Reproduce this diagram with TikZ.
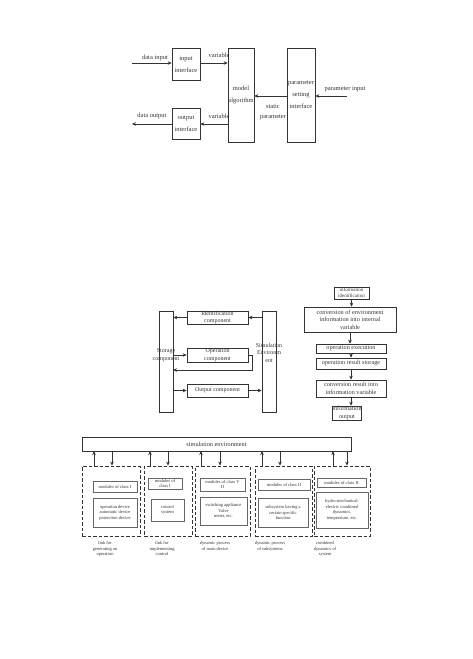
\documentclass[tikz,border=0pt]{standalone}
\usepackage{fontspec}
\setmainfont{Liberation Serif}
\usetikzlibrary{arrows.meta}

\begin{document}
\begin{tikzpicture}[x=1pt,y=-1pt,line width=0.6pt,color=black!80,
  >={Stealth[length=4pt,width=3.5pt]},
  box/.style={draw,inner sep=0pt,align=center},
  sz/.style 2 args={minimum width=#1pt,minimum height=#2pt},
  topf/.style={font=\fontsize{6.5}{12}\selectfont},
  midf/.style={font=\fontsize{6}{7.5}\selectfont},
  flowf/.style={font=\fontsize{6.2}{7.5}\selectfont},
  botf/.style={font=\fontsize{4.5}{5.5}\selectfont},
  grp/.style={draw,dash pattern=on 3.5pt off 2pt,line width=0.8pt},
  mod/.style={box,line width=1pt,draw=black!60}]
  \useasboundingbox (0,0) rectangle (473,659);

  % model with its interfaces
  \node[box,topf,sz={28}{32}] (inp) at (186,64) {input\\interface};
  \node[box,topf,sz={28}{31}] (outp) at (186,123.5) {output\\interface};
  \node[box,topf,sz={26}{94}] (model) at (241,95) {model\\algorithm};
  \node[box,topf,sz={28}{94}] (par) at (301,95) {parameter\\setting\\interface};
  \coordinate (din) at (132,63);
  \coordinate (dout) at (132,124);
  \coordinate (pin) at (347,96);
  \draw[->] (din) -- (inp.west |- din);
  \draw[->] (inp.east |- din) -- (model.west |- din);
  \draw[->] (model.west |- dout) -- (outp.east |- dout);
  \draw[->] (outp.west |- dout) -- (dout);
  \draw[->] (pin) -- (par.east |- pin);
  \draw[->] (par.west |- pin) -- (model.east |- pin);
  \node[topf] (ldin) at (155,58) {data input};
  \node[topf] (lvin) at (219,55) {variable};
  \node[topf] (lvout) at (219,116) {variable};
  \node[topf] (ldout) at (152,116) {data output};
  \node[topf] (lpin) at (345,89) {parameter input};
  \node[topf,align=center,font=\fontsize{6.5}{10}\selectfont] (lstat) at (273,112) {static\\parameter};

  % components
  \node[box,sz={14}{101}] (sto) at (166,361.5) {};
  \node[box,sz={14}{101}] (sim) at (269,361.5) {};
  \node[midf,align=center] (stot) at (166,355) {Storage\\component};
  \node[midf,align=center] (simt) at (269,352.5) {Simulation\\Environm\\ent};
  \node[box,midf,sz={61}{13}] (idc) at (217.5,317.5) {Identification\\component};
  \node[box,midf,sz={61}{14}] (opc) at (217.5,355) {Operation\\component};
  \node[box,midf,sz={61}{13}] (outc) at (217.5,390.5) {Output component};
  \coordinate (ret) at (173,370);
  \draw[->] (sim.west |- idc.east) -- (idc.east);
  \draw[->] (idc.west) -- (sto.east |- idc.west);
  \draw[->] (sto.east |- opc.west) -- (opc.west);
  \draw[->] (opc.east) -- ++(4,0) |- (ret);
  \draw[->] (sto.east |- outc.west) -- (outc.west);
  \draw[->] (outc.east) -- (sim.west |- outc.east);

  % information flow
  \node[box,sz={35}{12},font=\fontsize{5}{5.5}\selectfont] (f1) at (351.5,293) {information\\identification};
  \node[box,flowf,sz={92}{25}] (f2) at (350,319.5) {conversion of environment\\information into internal\\variable};
  \node[box,flowf,sz={70}{9}] (f3) at (351,348.5) {operation execution};
  \node[box,flowf,sz={70}{11}] (f4) at (351,363.5) {operation result storage};
  \node[box,flowf,sz={70}{17}] (f5) at (351,388.5) {conversion result into\\information variable};
  \node[box,flowf,sz={28}{14}] (f6) at (347,413) {information\\output};
  \foreach \a/\b in {f1/f2,f2/f3,f3/f4,f4/f5,f5/f6}
    \draw[->] (\a.south) -- (\a.south |- \b.north);

  % simulation environment and module classes
  \node[box,font=\fontsize{6.3}{7}\selectfont,sz={269}{14}] (env) at (216.5,444) {simulation environment};
  \foreach \i/\cx/\w in {1/111/58,2/168/48,3/222.5/55,4/283.5/57,5/342/56}
    \node[grp,sz={\w}{70}] (g\i) at (\cx,501) {};
  \foreach \i/\xu/\xd in {1/94/112,2/150/168,3/201/220,4/262/280,5/333/347}{
    \coordinate (u\i) at (\xu,451);
    \coordinate (d\i) at (\xd,451);
    \draw[->] (u\i |- g\i.north) -- (u\i);
    \draw[->] (d\i) -- (d\i |- g\i.north);
  }
  \node[mod,botf,sz={44}{11}] (m1) at (115,486.5) {modules of class I};
  \node[mod,botf,sz={44}{29}] (c1) at (115,512.5) {operation device\\automatic device\\protection device};
  \node[mod,botf,sz={34}{11}] (m2) at (165,483.5) {modules of\\class I};
  \node[mod,botf,sz={33}{22}] (c2) at (167.5,510) {control\\system};
  \node[mod,botf,sz={45}{13}] (m3) at (222.5,484.5) {modules of class V\\II};
  \node[mod,botf,sz={47}{28}] (c3) at (223.5,511) {switching appliance\\Valve\\meter, etc.};
  \node[mod,botf,sz={52}{11}] (m4) at (284,484.5) {modules of class II};
  \node[mod,botf,sz={50}{29}] (c4) at (283,512.5) {subsystem having a\\certain specific\\function};
  \node[mod,botf,sz={49}{9}] (m5) at (341.5,482.5) {modules of class II};
  \node[mod,botf,sz={52}{36}] (c5) at (342,510) {hydro-mechanical-\\electric combined\\dynamics,\\temperature, etc.};
  \node[botf,align=center,anchor=north] (n1) at (105,538) {link for\\generating an\\operation};
  \node[botf,align=center,anchor=north] (n2) at (162,538) {link for\\implementing\\control};
  \node[botf,align=center,anchor=north] (n3) at (215,538) {dynamic process\\of main device};
  \node[botf,align=center,anchor=north] (n4) at (270,538) {dynamic process\\of subsystems};
  \node[botf,align=center,anchor=north] (n5) at (325,538) {combined\\dynamics of\\system};
\end{tikzpicture}
\end{document}
